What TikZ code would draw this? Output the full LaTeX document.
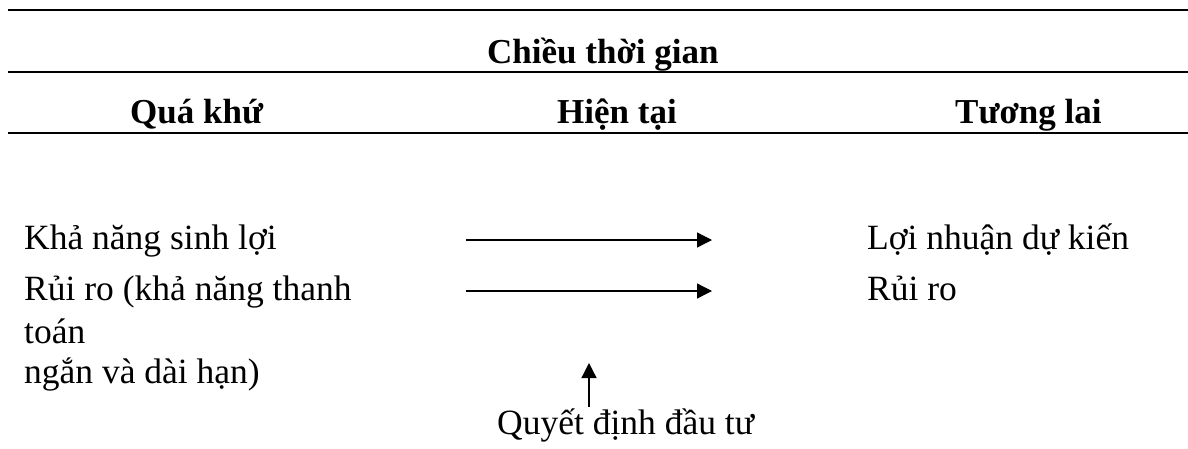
\documentclass[tikz,border=0pt]{standalone}
\usepackage{fontspec}
\setmainfont{Liberation Serif}
\usetikzlibrary{arrows.meta}
\begin{document}
\begin{tikzpicture}[x=1pt,y=-1pt,
  rule/.style={line width=2.3pt},
  head/.style={inner sep=0pt,anchor=base west,font=\fontsize{35}{40}\selectfont\bfseries},
  body/.style={inner sep=0pt,anchor=base west,font=\fontsize{35.5}{40}\selectfont},
  flow/.style={line width=1.3pt,-{Triangle[length=15pt,width=15pt]}}]
\useasboundingbox (0,0) rectangle (1188,448);

% table rules
\coordinate (r1a) at (8,10);   \coordinate (r1b) at (1188,10);
\coordinate (r2a) at (8,72);   \coordinate (r2b) at (1188,72);
\coordinate (r3a) at (8,133);  \coordinate (r3b) at (1188,133);
\draw[rule] (r1a) -- (r1b);
\draw[rule] (r2a) -- (r2b);
\draw[rule] (r3a) -- (r3b);

% headings
\node[head] (title) at (487,63) {Chiều thời gian};
\node[head] (past) at (130,123) {Quá khứ};
\node[head] (now) at (557,123) {Hiện tại};
\node[head] (future) at (955,123) {Tương lai};

% left column
\node[body] (l1) at (24,249) {Khả năng sinh lợi};
\node[body] (l2) at (24,300) {Rủi ro (khả năng thanh};
\node[body] (l3) at (24,343) {toán};
\node[body] (l4) at (24,383) {ngắn và dài hạn)};

% right column
\node[body] (f1) at (867,249) {Lợi nhuận dự kiến};
\node[body] (f2) at (867,300) {Rủi ro};

% decision
\node[body] (dec) at (497,434) {Quyết định đầu tư};

% arrows
\coordinate (a1s) at (466,240); \coordinate (a1e) at (712,240);
\coordinate (a2s) at (466,291); \coordinate (a2e) at (712,291);
\coordinate (a3s) at (589,407); \coordinate (a3e) at (589,363);
\draw[flow] (a1s) -- (a1e);
\draw[flow] (a2s) -- (a2e);
\draw[flow] (a3s) -- (a3e);
\end{tikzpicture}
\end{document}
